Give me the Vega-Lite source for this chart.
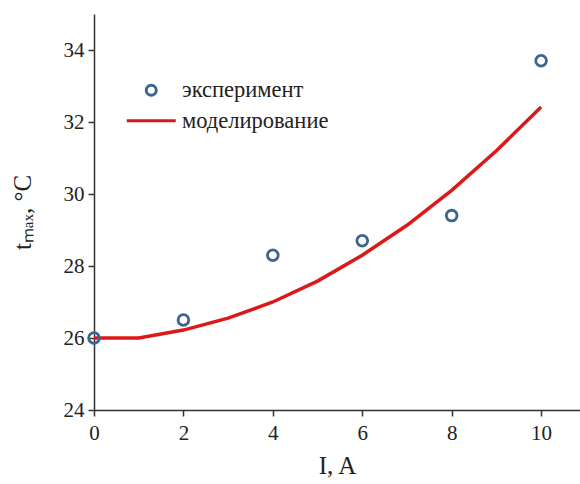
{
  "$schema": "https://vega.github.io/schema/vega-lite/v6.json",
  "width": 486,
  "height": 396,
  "autosize": {"type": "none"},
  "padding": {"left": 94, "top": 14, "right": 0, "bottom": 74},
  "background": "white",
  "config": {
    "view": {"stroke": null},
    "font": "Liberation Serif",
    "axis": {
      "grid": false,
      "domainColor": "#333333",
      "domainWidth": 1.5,
      "tickColor": "#333333",
      "tickWidth": 1.5,
      "tickSize": 6,
      "labelFlush": false,
      "labelFont": "Liberation Serif",
      "labelFontSize": 21,
      "labelColor": "#222222",
      "titleFont": "Liberation Serif",
      "titleFontSize": 25,
      "titleFontWeight": "normal",
      "titleColor": "#222222"
    },
    "legend": {
      "labelFont": "Liberation Serif",
      "labelFontSize": 22.5,
      "labelColor": "#222222",
      "padding": 0
    }
  },
  "datasets": {
    "exp": [
      {"I": 0, "t": 26.0, "series": "эксперимент"},
      {"I": 2, "t": 26.5, "series": "эксперимент"},
      {"I": 4, "t": 28.3, "series": "эксперимент"},
      {"I": 6, "t": 28.7, "series": "эксперимент"},
      {"I": 8, "t": 29.4, "series": "эксперимент"},
      {"I": 10, "t": 33.7, "series": "эксперимент"}
    ],
    "model": [
      {"I": 0, "t": 26.0},
      {"I": 1, "t": 26.0},
      {"I": 2, "t": 26.22},
      {"I": 3, "t": 26.55},
      {"I": 4, "t": 27.0},
      {"I": 5, "t": 27.58},
      {"I": 6, "t": 28.3},
      {"I": 7, "t": 29.13},
      {"I": 8, "t": 30.1},
      {"I": 9, "t": 31.2},
      {"I": 10, "t": 32.42}
    ]
  },
  "layer": [
    {
      "mark": {"type": "rule", "color": "#333333", "strokeWidth": 1.5},
      "encoding": {"y": {"datum": 35, "type": "quantitative", "scale": {"domain": [24, 35]}}}
    },
    {
      "data": {"name": "model"},
      "mark": {"type": "line", "color": "#dd1818", "strokeWidth": 3.5},
      "encoding": {
        "x": {"field": "I", "type": "quantitative", "scale": {"domain": [0, 10.87], "nice": false}},
        "y": {"field": "t", "type": "quantitative", "scale": {"domain": [24, 35], "nice": false}}
      }
    },
    {
      "data": {"name": "exp"},
      "mark": {"type": "point", "filled": false, "opacity": 1, "size": 115, "strokeWidth": 2.8, "clip": false},
      "encoding": {
        "x": {
          "field": "I", "type": "quantitative",
          "scale": {"domain": [0, 10.87], "nice": false},
          "axis": {"values": [0, 2, 4, 6, 8, 10], "title": "I, A", "titlePadding": 10, "labelPadding": 6}
        },
        "y": {
          "field": "t", "type": "quantitative",
          "scale": {"domain": [24, 35], "nice": false},
          "axis": {"values": [24, 26, 28, 30, 32, 34], "title": "tₘₐₓ, °C", "titlePadding": 28, "labelPadding": 4}
        },
        "color": {
          "field": "series", "type": "nominal",
          "scale": {"domain": ["эксперимент", "моделирование"], "range": ["#3a6690", "#dd1818"]},
          "legend": {
            "title": null,
            "orient": "none",
            "legendX": 46,
            "legendY": 65,
            "rowPadding": 7.5,
            "labelOffset": 19.5,
            "symbolStrokeWidth": 3,
            "symbolOpacity": 1
          }
        },
        "shape": {
          "field": "series", "type": "nominal",
          "scale": {"domain": ["эксперимент", "моделирование"], "range": ["circle", "M-4.9,0H4.9"]}
        }
      }
    }
  ]
}
